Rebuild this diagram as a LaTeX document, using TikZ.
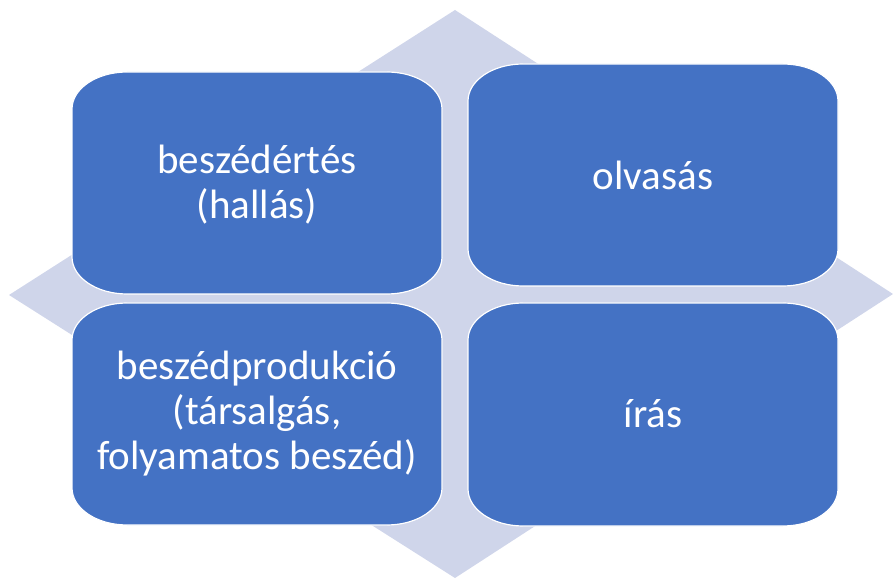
\documentclass[tikz,border=0pt]{standalone}
\usepackage{fontspec}
\setmainfont{Carlito}
\definecolor{boxblue}{HTML}{4472C4}
\definecolor{diamondfill}{HTML}{CFD5EA}
\newcommand\ebox[4]{%
  \fill[boxblue] (#1+55,#2) -- (#3-55,#2)
    arc[start angle=-90,end angle=0,x radius=55pt,y radius=37pt]
    -- (#3,#4-37)
    arc[start angle=0,end angle=90,x radius=55pt,y radius=37pt]
    -- (#1+55,#4)
    arc[start angle=90,end angle=180,x radius=55pt,y radius=37pt]
    -- (#1,#2+37)
    arc[start angle=180,end angle=270,x radius=55pt,y radius=37pt]
    -- cycle;
  \draw[white,line width=1.2pt] (#1+55,#2) -- (#3-55,#2)
    arc[start angle=-90,end angle=0,x radius=55pt,y radius=37pt]
    -- (#3,#4-37)
    arc[start angle=0,end angle=90,x radius=55pt,y radius=37pt]
    -- (#1+55,#4)
    arc[start angle=90,end angle=180,x radius=55pt,y radius=37pt]
    -- (#1,#2+37)
    arc[start angle=180,end angle=270,x radius=55pt,y radius=37pt]
    -- cycle;}
\tikzset{
  lbl/.style={text=white,align=center,font=\fontsize{41}{45}\selectfont,inner sep=0pt}
}
\begin{document}
\begin{tikzpicture}[x=1pt,y=1pt]
\useasboundingbox (0,0) rectangle (893,578);
\fill[diamondfill] (455,568) coordinate (dtop) -- (893,284) coordinate (dright)
  -- (455,0) coordinate (dbottom) -- (9,283) coordinate (dleft) -- cycle;
\ebox{72}{284}{442}{506}
\ebox{468}{292}{838}{514}
\ebox{72}{53}{442}{275}
\ebox{468}{52}{838}{275}
\node[lbl] (hallas) at (257,393) {beszédértés\\(hallás)};
\node[lbl] (olvasas) at (653,403) {olvasás};
\node[lbl] (produkcio) at (257,164) {beszédprodukció\\(társalgás,\\folyamatos beszéd)};
\node[lbl] (iras) at (653,164) {írás};
\end{tikzpicture}
\end{document}
